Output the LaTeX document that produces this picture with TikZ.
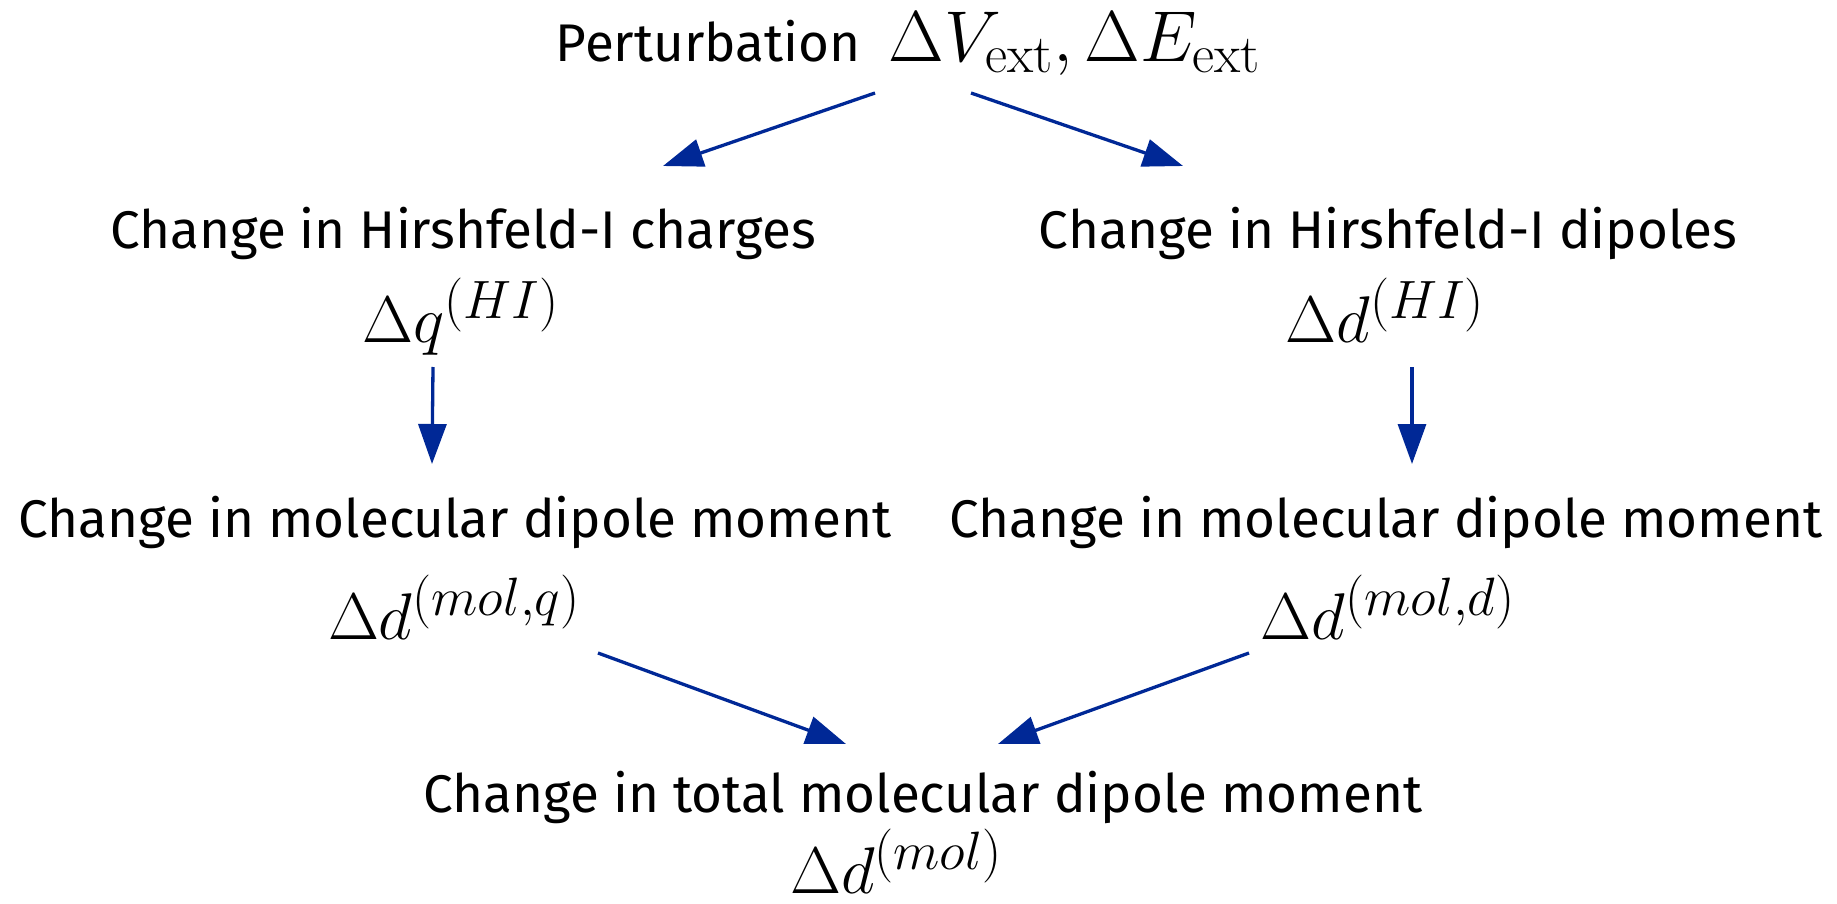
\documentclass[tikz,border=0pt]{standalone}
\usepackage{fix-cm}
\usepackage[no-math]{fontspec}
\setmainfont{Fira Sans}
\usetikzlibrary{arrows.meta}
\definecolor{flowblue}{RGB}{0,40,150}
\DeclareMathSizes{66}{66}{54}{40}
\DeclareMathSizes{72}{72}{54}{40}

\begin{document}
\begin{tikzpicture}[
    x=1pt, y=-1pt,
    flow/.style={draw=flowblue, line width=3.3pt, -{Triangle[length=40pt,width=28pt]}},
    desc/.style={anchor=base, inner sep=0pt, font=\fontsize{53}{62}\selectfont},
    quant/.style={anchor=base, inner sep=0pt, font=\fontsize{66}{78}\selectfont}
]
    \useasboundingbox (0,0) rectangle (1837,904);

    % Perturbation
    \node[desc] (pert) at (908,62) {Perturbation \ {\fontsize{72}{84}\selectfont$\Delta V_{\mathrm{ext}}, \Delta E_{\mathrm{ext}}$}};

    % Hirshfeld-I charges and dipoles
    \node[desc] (chgq) at (463,248) {Change in Hirshfeld-I charges};
    \node[quant] (dq) at (461,342) {$\Delta q^{(HI)}$};
    \node[desc] (chgd) at (1388,248) {Change in Hirshfeld-I dipoles};
    \node[quant] (dd) at (1385,342) {$\Delta d^{(HI)}$};

    \draw[flow] ([shift={(-33,31)}]pert.base) -- ([shift={(200,-82)}]chgq.base);
    \draw[flow] ([shift={(63,31)}]pert.base) -- ([shift={(-205,-82)}]chgd.base);

    % Molecular dipole moments
    \node[desc] (molq) at (455,537) {Change in molecular dipole moment};
    \node[quant] (dmq) at (454,639) {$\Delta d^{(mol,q)}$};
    \node[desc] (mold) at (1386,537) {Change in molecular dipole moment};
    \node[quant] (dmd) at (1388,639) {$\Delta d^{(mol,d)}$};

    \draw[flow] ([shift={(-28,25)}]dq.base) -- ([shift={(-23,-73)}]molq.base);
    \draw[flow] ([shift={(27,25)}]dd.base) -- ([shift={(26,-73)}]mold.base);

    % Total
    \node[desc] (tot) at (923,812) {Change in total molecular dipole moment};
    \node[quant] (dtot) at (896,893) {$\Delta d^{(mol)}$};

    \draw[flow] ([shift={(144,14)}]dmq.base) -- ([shift={(-77,-68)}]tot.base);
    \draw[flow] ([shift={(-139,14)}]dmd.base) -- ([shift={(75,-68)}]tot.base);

\end{tikzpicture}
\end{document}
